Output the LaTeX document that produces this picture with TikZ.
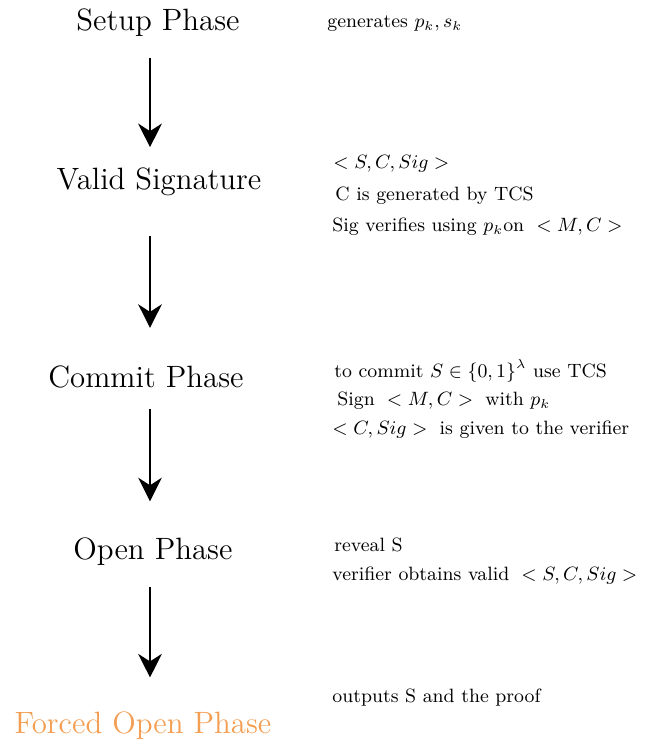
\documentclass[tikz,border=0pt]{standalone}
\usepackage{amsmath}
\usepackage{amssymb}
\usetikzlibrary{positioning,arrows.meta}
\definecolor{forcedorange}{RGB}{243,158,82}

\begin{document}
\begin{tikzpicture}[x=0.467pt, y=-0.467pt,
    phase/.style={inner sep=0pt, font=\Large},
    note/.style={inner sep=0pt, anchor=west, font=\small},
    flow/.style={line width=1.1pt, -{Stealth[length=11pt, width=11pt, inset=3.5pt]}}]

\useasboundingbox (0,0) rectangle (646,745);

% Phases (left column)
\node[phase] (setup) at (158,23) {Setup Phase};
\node[phase] (valid) at (159,182) {Valid Signature};
\node[phase] (commit) at (146,377) {Commit Phase};
\node[phase] (open) at (153,552) {Open Phase};
\node[phase, text=forcedorange] (forced) at (143,726) {Forced Open Phase};

% Arrows between phases
\coordinate (ax) at (150,0);
\draw[flow, shorten <=9.5pt, shorten >=9.5pt] (setup.south -| ax) -- (valid.north -| ax);
\draw[flow, shorten <=18.5pt, shorten >=17.5pt] (valid.south -| ax) -- (commit.north -| ax);
\draw[flow, shorten <=9.5pt, shorten >=17pt] (commit.south -| ax) -- (open.north -| ax);
\draw[flow, shorten <=9.5pt, shorten >=16pt] (open.south -| ax) -- (forced.north -| ax);

% Notes (right column)
\node[note] (n1) at (327,24) {generates $p_k, s_k$};

\node[note] (n2a) at (333,164) {$<S,C,Sig>$};
\node[note] (n2b) at (335,196) {C is generated by TCS};
\node[note] (n2c) at (332,227) {Sig verifies using $p_k$on $\;<M,C>$};

\node[note] (n3a) at (334,371) {to commit $S\in\{0,1\}^{\lambda}$ use TCS};
\node[note] (n3b) at (337,401) {Sign $\;<M,C>\;$ with $p_k$};
\node[note] (n3c) at (332,430) {$<C,Sig>\;$ is given to the verifier};

\node[note] (n4a) at (334,545) {reveal S};
\node[note] (n4b) at (332,576) {verifier obtains valid $\;<S,C,Sig>$};

\node[note] (n5) at (332,698) {outputs S and the proof};

\end{tikzpicture}
\end{document}
